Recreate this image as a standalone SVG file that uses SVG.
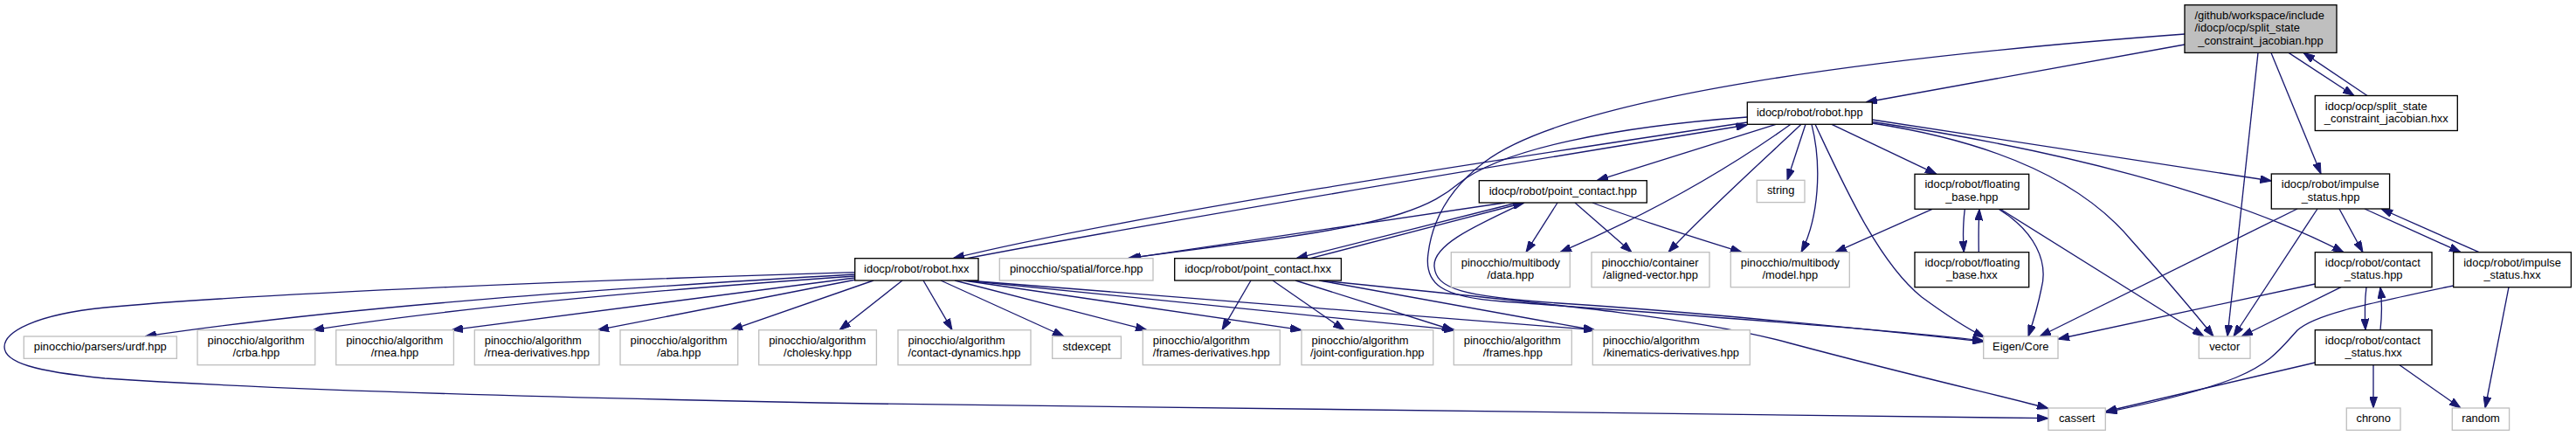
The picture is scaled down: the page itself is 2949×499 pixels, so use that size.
<svg xmlns="http://www.w3.org/2000/svg" width="2949" height="499" viewBox="0 0 2949 499">
<style>
.doc{fill:#ffffff;stroke:#000000;stroke-width:1.33}
.ext{fill:#ffffff;stroke:#bfbfbf;stroke-width:1.33}
.root{fill:#bfbfbf;stroke:#000000;stroke-width:1.33}
text{font-family:"Liberation Sans",Arial,sans-serif;font-size:12.9px;fill:#000000}
.m{text-anchor:middle}
.s{text-anchor:start}
#edges path{fill:none;stroke:#191970;stroke-width:1.33;marker-end:url(#arr)}
</style>
<defs>
<marker id="arr" markerUnits="userSpaceOnUse" viewBox="0 0 13 9" markerWidth="13" markerHeight="9" refX="13" refY="4.5" orient="auto">
<path d="M0,0 L13,4.5 L0,9 z" fill="#191970" stroke="#191970" stroke-width="1"/>
</marker>
</defs>
<rect x="0" y="0" width="2949" height="499" fill="#ffffff"/>
<g id="edges">
<path d="M2620,60.4 L2695,109.5"/>
<path d="M2710,109.5 L2637,60.4"/>
<path d="M2501,51 L2136,117"/>
<path d="M2501,39 C2150,65 1800,110 1700,185 C1660,215 1640,250 1635,290 C1630,325 1650,340 1720,345 C1850,355 2150,375 2271,390"/>
<path d="M2585,60.4 L2550,385"/>
<path d="M2600,60.4 L2657,199"/>
<path d="M2000.3,140 C1700,185 1300,245 1091,295.7"/>
<path d="M1107,295.7 C1320,255 1700,192 2000.3,143"/>
<path d="M2000.3,134 C1850,145 1720,170 1670,210 C1640,235 1600,255 1440,276 L1291,295.7"/>
<path d="M1723,232 L1293,295.7"/>
<path d="M2033,142.3 L1828,206.7"/>
<path d="M2050,142.3 C1990,185 1900,240 1786,288.7"/>
<path d="M2062,142.3 C2020,182 1950,245 1910,288.7"/>
<path d="M2067,142.3 L2046,206.3"/>
<path d="M2074,142.3 C2086,190 2082,250 2062,288.7"/>
<path d="M2078,142.3 C2110,210 2150,300 2200,340 C2230,362 2250,375 2272,386"/>
<path d="M2097,142.3 L2217,199.3"/>
<path d="M2143.3,137 L2600.3,207"/>
<path d="M2143.3,139.5 C2350,170 2550,220 2683,288.7"/>
<path d="M2143.3,141 C2300,165 2390,215 2440,275 C2480,320 2510,355 2534,385"/>
<path d="M1737,232 L1484,295.7"/>
<path d="M1500,295.7 L1745,232"/>
<path d="M1745,232 C1690,258 1640,280 1642,305 C1644,330 1670,340 1800,348 C1950,358 2150,378 2271,391"/>
<path d="M1783,232 L1747,288.7"/>
<path d="M1803,232 L1868,288.7"/>
<path d="M1823,232 C1870,250 1940,272 1994,288.7"/>
<path d="M2212,239.3 L2101,288.7"/>
<path d="M2249.3,239.3 C2247,258 2247,272 2248.3,288.7"/>
<path d="M2265.3,288.7 C2265,270 2265,255 2266,239.3"/>
<path d="M2288,239.3 C2330,265 2345,300 2337,330 C2332,355 2327,370 2322,385"/>
<path d="M2290,239.3 L2523,385"/>
<path d="M2630,239 L2335,385"/>
<path d="M2653,239 L2557,385"/>
<path d="M2678,239 L2705,288.7"/>
<path d="M2707,239 L2817,288.7"/>
<path d="M2838,288.7 L2726,239"/>
<path d="M2680,328.7 L2566,385"/>
<path d="M2650.3,325 L2356,388"/>
<path d="M2709,328.7 C2707,345 2707,360 2708,377.7"/>
<path d="M2725,377.7 C2727,360 2727,345 2725,328.7"/>
<path d="M2717,417.7 L2717,467"/>
<path d="M2747,417.7 L2817,467"/>
<path d="M2650.3,415 L2410.3,471"/>
<path d="M2872,328.7 L2845,467"/>
<path d="M2808.7,327 C2700,350 2650,360 2630,378 C2610,400 2600,415 2560,432 C2520,448 2460,462 2410.3,472"/>
<path d="M978.7,314 C700,330 400,350 166,385"/>
<path d="M978.7,316 C750,332 520,352 358,377.7"/>
<path d="M978.7,318 L517,377.7"/>
<path d="M980,320 L684,377.7"/>
<path d="M1000,321 L837,377.7"/>
<path d="M1033,321 L961,377.7"/>
<path d="M1057,321 L1090,377.7"/>
<path d="M1077,321 L1218,385"/>
<path d="M1093,321 L1313,377.7"/>
<path d="M1103,321 L1490,377.7"/>
<path d="M1105,321 L1666,377.7"/>
<path d="M1107,321 L1826,377.7"/>
<path d="M978.7,311.7 C700,320 300,335 120,352 C40,360 5,380 5,397 C5,415 40,425 120,433 C300,445 600,455 1000,462 C1500,470 2000,476 2345,478.7"/>
<path d="M1432,321 L1399,377.7"/>
<path d="M1457,321 L1539,377.7"/>
<path d="M1483,321 L1664,378"/>
<path d="M1510,321 L1826,378"/>
<path d="M1512,321 C1800,350 1950,365 2050,393 C2200,433 2300,455 2345,467.5"/>
</g>
<g id="n_root"><rect class="root" x="2501" y="5.7" width="174" height="54.7"/><text class="s" x="2512.5" y="21.7">/github/workspace/include</text><text class="s" x="2512.5" y="36.4">/idocp/ocp/split_state</text><text class="m" x="2588" y="51">_constraint_jacobian.hpp</text></g>
<g id="n_sschxx"><rect class="doc" x="2650.3" y="109.5" width="163" height="40"/><text class="s" x="2661.8" y="125.5">idocp/ocp/split_state</text><text class="m" x="2731.8" y="140.2">_constraint_jacobian.hxx</text></g>
<g id="n_robot_hpp"><rect class="doc" x="2000.3" y="117" width="143" height="25.3"/><text class="m" x="2071.8" y="133">idocp/robot/robot.hpp</text></g>
<g id="n_string"><rect class="ext" x="2011.3" y="206.3" width="54.7" height="25.3"/><text class="m" x="2038.7" y="222.3">string</text></g>
<g id="n_fb_hpp"><rect class="doc" x="2192" y="199.3" width="130.7" height="40"/><text class="s" x="2203.5" y="215.3">idocp/robot/floating</text><text class="m" x="2257.3" y="230">_base.hpp</text></g>
<g id="n_is_hpp"><rect class="doc" x="2600.3" y="199" width="135.3" height="40"/><text class="s" x="2611.8" y="215">idocp/robot/impulse</text><text class="m" x="2668" y="229.7">_status.hpp</text></g>
<g id="n_pc_hpp"><rect class="doc" x="1693.3" y="206.7" width="192" height="25.3"/><text class="m" x="1789.3" y="222.7">idocp/robot/point_contact.hpp</text></g>
<g id="n_robot_hxx"><rect class="doc" x="978.7" y="295.7" width="141.3" height="25.3"/><text class="m" x="1049.3" y="311.7">idocp/robot/robot.hxx</text></g>
<g id="n_force"><rect class="ext" x="1144.3" y="295.7" width="175.7" height="25.3"/><text class="m" x="1232.2" y="311.7">pinocchio/spatial/force.hpp</text></g>
<g id="n_pc_hxx"><rect class="doc" x="1344.7" y="295.7" width="190.7" height="25.3"/><text class="m" x="1440" y="311.7">idocp/robot/point_contact.hxx</text></g>
<g id="n_data"><rect class="ext" x="1661.3" y="288.7" width="136" height="40"/><text class="s" x="1672.8" y="304.7">pinocchio/multibody</text><text class="m" x="1729.3" y="319.4">/data.hpp</text></g>
<g id="n_aligned"><rect class="ext" x="1822" y="288.7" width="135" height="40"/><text class="s" x="1833.5" y="304.7">pinocchio/container</text><text class="m" x="1889.5" y="319.4">/aligned-vector.hpp</text></g>
<g id="n_model"><rect class="ext" x="1981.3" y="288.7" width="136" height="40"/><text class="s" x="1992.8" y="304.7">pinocchio/multibody</text><text class="m" x="2049.3" y="319.4">/model.hpp</text></g>
<g id="n_fb_hxx"><rect class="doc" x="2192" y="288.7" width="130.7" height="40"/><text class="s" x="2203.5" y="304.7">idocp/robot/floating</text><text class="m" x="2257.3" y="319.4">_base.hxx</text></g>
<g id="n_cs_hpp"><rect class="doc" x="2650.3" y="288.7" width="133.7" height="40"/><text class="s" x="2661.8" y="304.7">idocp/robot/contact</text><text class="m" x="2717.2" y="319.4">_status.hpp</text></g>
<g id="n_is_hxx"><rect class="doc" x="2808.7" y="288.7" width="134.7" height="40"/><text class="s" x="2820.2" y="304.7">idocp/robot/impulse</text><text class="m" x="2876" y="319.4">_status.hxx</text></g>
<g id="n_urdf"><rect class="ext" x="27.3" y="385" width="175" height="25.3"/><text class="m" x="114.8" y="401">pinocchio/parsers/urdf.hpp</text></g>
<g id="n_crba"><rect class="ext" x="226" y="377.7" width="134.7" height="40"/><text class="s" x="237.5" y="393.7">pinocchio/algorithm</text><text class="m" x="293.3" y="408.4">/crba.hpp</text></g>
<g id="n_rnea"><rect class="ext" x="384.7" y="377.7" width="134.7" height="40"/><text class="s" x="396.2" y="393.7">pinocchio/algorithm</text><text class="m" x="452" y="408.4">/rnea.hpp</text></g>
<g id="n_rnea_der"><rect class="ext" x="543.3" y="377.7" width="142.7" height="40"/><text class="s" x="554.8" y="393.7">pinocchio/algorithm</text><text class="m" x="614.7" y="408.4">/rnea-derivatives.hpp</text></g>
<g id="n_aba"><rect class="ext" x="710" y="377.7" width="134.7" height="40"/><text class="s" x="721.5" y="393.7">pinocchio/algorithm</text><text class="m" x="777.3" y="408.4">/aba.hpp</text></g>
<g id="n_cholesky"><rect class="ext" x="868.7" y="377.7" width="134.7" height="40"/><text class="s" x="880.2" y="393.7">pinocchio/algorithm</text><text class="m" x="936" y="408.4">/cholesky.hpp</text></g>
<g id="n_contact_dyn"><rect class="ext" x="1028" y="377.7" width="152" height="40"/><text class="s" x="1039.5" y="393.7">pinocchio/algorithm</text><text class="m" x="1104" y="408.4">/contact-dynamics.hpp</text></g>
<g id="n_stdexcept"><rect class="ext" x="1204.7" y="385" width="78.7" height="25.3"/><text class="m" x="1244" y="401">stdexcept</text></g>
<g id="n_frames_der"><rect class="ext" x="1308.3" y="377.7" width="157" height="40"/><text class="s" x="1319.8" y="393.7">pinocchio/algorithm</text><text class="m" x="1386.8" y="408.4">/frames-derivatives.hpp</text></g>
<g id="n_joint_config"><rect class="ext" x="1490" y="377.7" width="150.7" height="40"/><text class="s" x="1501.5" y="393.7">pinocchio/algorithm</text><text class="m" x="1565.3" y="408.4">/joint-configuration.hpp</text></g>
<g id="n_frames"><rect class="ext" x="1664.3" y="377.7" width="135" height="40"/><text class="s" x="1675.8" y="393.7">pinocchio/algorithm</text><text class="m" x="1731.8" y="408.4">/frames.hpp</text></g>
<g id="n_kin_der"><rect class="ext" x="1823.3" y="377.7" width="180" height="40"/><text class="s" x="1834.8" y="393.7">pinocchio/algorithm</text><text class="m" x="1913.3" y="408.4">/kinematics-derivatives.hpp</text></g>
<g id="n_eigen"><rect class="ext" x="2270.7" y="385" width="85.3" height="25.3"/><text class="m" x="2313.3" y="401">Eigen/Core</text></g>
<g id="n_vector"><rect class="ext" x="2517.3" y="385" width="58.7" height="25.3"/><text class="m" x="2546.7" y="401">vector</text></g>
<g id="n_cs_hxx"><rect class="doc" x="2650.3" y="377.7" width="133.7" height="40"/><text class="s" x="2661.8" y="393.7">idocp/robot/contact</text><text class="m" x="2717.2" y="408.4">_status.hxx</text></g>
<g id="n_cassert"><rect class="ext" x="2345" y="467" width="65.3" height="25.3"/><text class="m" x="2377.7" y="483">cassert</text></g>
<g id="n_chrono"><rect class="ext" x="2686.3" y="467" width="61.7" height="25.3"/><text class="m" x="2717.2" y="483">chrono</text></g>
<g id="n_random"><rect class="ext" x="2807.3" y="467" width="65.3" height="25.3"/><text class="m" x="2840" y="483">random</text></g>
</svg>
